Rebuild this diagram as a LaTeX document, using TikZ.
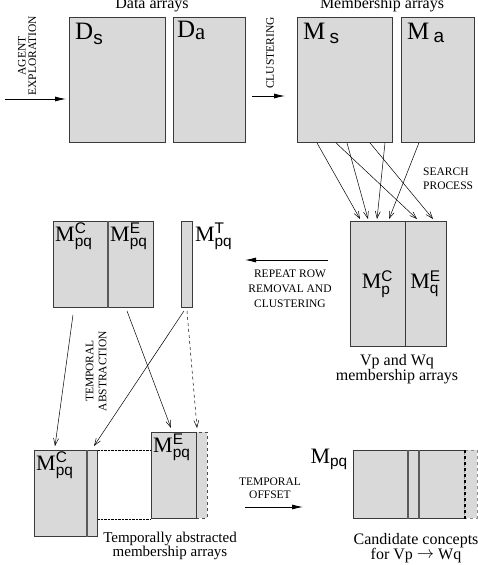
\documentclass[tikz,border=0pt]{standalone}
\usepackage{fontspec}
\usepackage{amsmath}
\setmainfont{Liberation Serif}
\setsansfont{Liberation Sans}
\usetikzlibrary{arrows.meta, positioning, calc}
\definecolor{arrfill}{HTML}{D9D9D9}
\definecolor{arredge}{HTML}{3A3A3A}

\begin{document}
\begin{tikzpicture}[
    x=1pt, y=-1pt,
    panel/.style={rectangle, draw=arredge, fill=arrfill, line width=0.9pt, inner sep=0pt, anchor=north west},
    tag/.style={inner sep=6pt, anchor=north west, font=\fontsize{25}{27}\selectfont},
    sym/.style={inner sep=2pt, anchor=north west, font=\fontsize{22}{24}\selectfont},
    caps/.style={align=center, inner sep=0pt, font=\fontsize{11.5}{13.5}\selectfont},
    caption/.style={align=center, inner sep=0pt, font=\fontsize{16}{15}\selectfont},
    flow/.style={-{Latex[length=11pt,width=5pt]}, line width=0.8pt},
    link/.style={-{Straight Barb[length=7pt,width=5pt]}, line width=0.5pt},
    divider/.style={line width=1.8pt, draw=black!65}
]
\useasboundingbox (0,0) rectangle (477,565);

% data and membership arrays
\node[panel, minimum width=96pt, minimum height=125pt] (ds) at (69,17) {};
\node[panel, minimum width=72pt, minimum height=125pt, right=7pt of ds] (da) {};
\node[panel, minimum width=95pt, minimum height=125pt] (ms) at (297,17) {};
\node[panel, minimum width=73pt, minimum height=125pt, right=8pt of ms] (ma) {};

\node[tag] at (ds.north west) {D\raisebox{-5pt}{\sffamily\fontsize{19}{19}\selectfont s}};
\node[tag, inner sep=4pt] at (da.north west) {D\raisebox{-2pt}{\fontsize{23}{23}\selectfont a}};
\node[tag] at (ms.north west) {M\,\raisebox{-4pt}{\sffamily\fontsize{19}{19}\selectfont s}};
\node[tag] at (ma.north west) {M\,\raisebox{-3pt}{\sffamily\fontsize{19}{19}\selectfont a}};

\node[caption, anchor=base] (datatitle) at (152,8.5) {Data arrays};
\node[caption, anchor=base] (membtitle) at (382,8.5) {Membership arrays};

\coordinate (explore) at (5,99);
\draw[flow, shorten >=3pt] (explore) -- (ds.west |- explore);
\node[caps, rotate=90, font=\fontsize{11.5}{10.5}\selectfont] (agent) at (27,56) {AGENT\\EXPLORATION};

\coordinate (clus) at (252,96);
\draw[flow, shorten >=12pt] (clus) -- (ms.west |- clus);
\node[caps, rotate=90] (clustering) at (270,53) {CLUSTERING};

% search process
\node[panel, minimum width=96pt, minimum height=125pt] (vpwq) at (350,221) {};
\draw[line width=0.9pt, arredge] ([xshift=55pt]vpwq.north west) -- ([xshift=55pt]vpwq.south west);
\node[font=\fontsize{22}{24}\selectfont] at ([xshift=27.5pt]vpwq.west) {M$^{\textsf{C}}_{\textsf{p}}$};
\node[font=\fontsize{22}{24}\selectfont] at ([xshift=75.5pt]vpwq.west) {M$^{\textsf{E}}_{\textsf{q}}$};
\node[caption, anchor=north] (vpcap) at (397,354) {Vp and Wq\\membership arrays};

\foreach \a/\b in {20/10, 39/67, 50/18, 73/83, 88/27}
  \draw[link] ([xshift=\a pt]ms.south west) -- ([xshift=\b pt, yshift=2pt]vpwq.north west);
\draw[link] ([xshift=18pt]ma.south west) -- ([xshift=39pt, yshift=2pt]vpwq.north west);
\node[caps, align=left, anchor=north west, font=\fontsize{11.5}{14}\selectfont] (search) at (423,167.5) {SEARCH\\PROCESS};

% repeat row removal
\coordinate (rep) at (245,260);
\draw[flow, shorten <=22pt] (vpwq.west |- rep) -- (rep);
\node[caps, anchor=north, font=\fontsize{11.5}{15}\selectfont] (repeat) at (290,270) {REPEAT ROW\\REMOVAL AND\\CLUSTERING};

\node[panel, minimum width=100pt, minimum height=86pt] (mmid) at (53,221) {};
\draw[divider] ([xshift=55pt]mmid.north west) -- ([xshift=55pt]mmid.south west);
\node[panel, minimum width=11pt, minimum height=86pt] (mt) at (181,221) {};
\node[sym] at (mmid.north west) {M$^{\textsf{C}}_{\textsf{pq}}$};
\node[sym] at ([xshift=55pt]mmid.north west) {M$^{\textsf{E}}_{\textsf{pq}}$};
\node[sym] at (mt.north east) {M$^{\textsf{T}}_{\textsf{pq}}$};

% temporal abstraction
\node[panel, minimum width=11pt, minimum height=86pt] (abscs) at (86,450) {};
\node[panel, minimum width=52pt, minimum height=86pt] (absc) at (34,450) {};
\draw[divider] (absc.north east) -- (absc.south east);
\node[panel, dashed, draw=black!70, minimum width=11pt, minimum height=86pt] (abses) at (196,432) {};
\node[panel, minimum width=45pt, minimum height=86pt] (abse) at (151,432) {};
\node[sym] at (absc.north west) {M$^{\textsf{C}}_{\textsf{pq}}$};
\node[sym] at (abse.north west) {M$^{\textsf{E}}_{\textsf{pq}}$};

\draw[densely dotted] (abscs.north east) -- (abscs.north east -| abse.west);
\draw[densely dotted] (abse.south west -| abscs.east) -- (abse.south west);

\draw[link] ([xshift=20pt, yshift=-7pt]mmid.south west) -- ([xshift=21pt, yshift=4pt]absc.north west);
\draw[link] ([xshift=74pt, yshift=-3pt]mmid.south west) -- ([xshift=20pt, yshift=4pt]abse.north west);
\draw[link] ([xshift=3pt, yshift=-3pt]mt.south west) -- ([xshift=8pt, yshift=4pt]abscs.north west);
\draw[link, dashed] ([xshift=6pt, yshift=-3pt]mt.south west) -- ([xshift=1pt, yshift=4pt]abses.north west);
\node[caps, rotate=90, font=\fontsize{11.5}{13}\selectfont] (abstraction) at (96,371) {TEMPORAL\\ABSTRACTION};

\node[caption, anchor=north, font=\fontsize{15}{14}\selectfont] (abscap) at (170,532) {Temporally abstracted\\membership arrays};

% temporal offset
\node[panel, dashed, draw=black!45, minimum width=13pt, minimum height=68pt] (mpqs) at (464,450) {};
\node[panel, draw=none, minimum width=111pt, minimum height=68pt] (mpq) at (353,450) {};
\draw[line width=0.9pt, arredge] (mpq.north east) -- (mpq.north west) -- (mpq.south west) -- (mpq.south east);
\draw[dashed, line width=1.5pt] (mpq.north east) -- (mpq.south east);
\draw[divider] ([xshift=55pt]mpq.north west) -- ([xshift=55pt]mpq.south west);
\draw[divider] ([xshift=66pt]mpq.north west) -- ([xshift=66pt]mpq.south west);
\node[sym, anchor=north east] at ([xshift=-3pt, yshift=3pt]mpq.north west) {M$_{\textsf{pq}}$};

\coordinate (off) at (245,507);
\draw[flow, shorten >=50pt] (off) -- (mpq.west |- off);
\node[caps, anchor=north, font=\fontsize{11.5}{13}\selectfont] (offset) at (270,478) {TEMPORAL\\OFFSET};

\node[caption, anchor=north, font=\fontsize{16}{15.5}\selectfont] (candcap) at (416,533) {Candidate concepts\\for Vp \raisebox{1pt}{$\rightarrow$} Wq};
\end{tikzpicture}
\end{document}
